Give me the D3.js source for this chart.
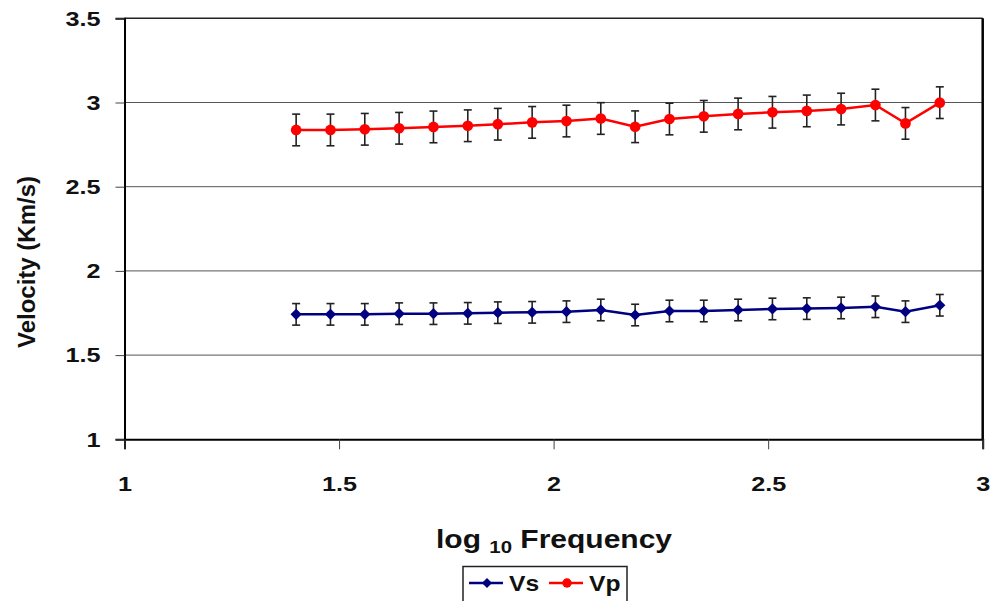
<!DOCTYPE html>
<html>
<head>
<meta charset="utf-8">
<script src="https://cdn.jsdelivr.net/npm/d3@7/dist/d3.min.js"></script>
<style>
  html, body { margin: 0; padding: 0; background: #fff; }
  svg { display: block; font-family: "Liberation Sans", Arial, sans-serif; font-weight: bold; }
</style>
</head>
<body>
<svg id="chart" width="993" height="601"></svg>
<script>
// log10 of frequency for each measurement
const logFreq = [1.40, 1.48, 1.56, 1.64, 1.72, 1.80, 1.87, 1.95, 2.03, 2.11,
                 2.19, 2.27, 2.35, 2.43, 2.51, 2.59, 2.67, 2.75, 2.82, 2.90];
// S-wave velocity (km/s) and its uncertainty
const vs = [1.742, 1.742, 1.742, 1.746, 1.746, 1.748, 1.752, 1.754, 1.758, 1.768,
            1.738, 1.762, 1.762, 1.768, 1.774, 1.776, 1.780, 1.787, 1.758, 1.796];
const vsErr = [0.064, 0.064, 0.064, 0.064, 0.064, 0.064, 0.064, 0.064, 0.064, 0.064,
               0.064, 0.064, 0.064, 0.064, 0.064, 0.064, 0.064, 0.064, 0.064, 0.064];
// P-wave velocity (km/s) and its uncertainty
const vp = [2.837, 2.837, 2.841, 2.847, 2.855, 2.862, 2.871, 2.882, 2.890, 2.905,
            2.856, 2.902, 2.918, 2.932, 2.942, 2.950, 2.961, 2.985, 2.876, 2.999];
const vpErr = [0.094, 0.094, 0.094, 0.094, 0.094, 0.094, 0.094, 0.094, 0.094, 0.094,
               0.094, 0.094, 0.094, 0.094, 0.094, 0.094, 0.094, 0.094, 0.094, 0.094];
const xTicks = [1, 1.5, 2, 2.5, 3];
const yTicks = [1, 1.5, 2, 2.5, 3, 3.5];
const seriesNames = ["Vs", "Vp"];

const svg = d3.select("#chart");
const plotLeft = 124.5, plotRight = 982.7, plotTop = 18.3, plotBottom = 439.3;
const FONT = "Liberation Sans, Arial, sans-serif";
const WIDEN = 1.2; // horizontally widened lettering

const x = d3.scaleLinear().domain([1, 3]).range([plotLeft, plotRight]);
const y = d3.scaleLinear().domain([1, 3.5]).range([plotBottom, plotTop]);

// horizontal gridlines
svg.append("g").selectAll("line")
  .data(yTicks.filter(t => t > 1 && t < 3.5))
  .join("line")
  .attr("x1", plotLeft).attr("x2", plotRight)
  .attr("y1", d => y(d)).attr("y2", d => y(d))
  .attr("stroke", "#555").attr("stroke-width", 1);

// plot frame: top and right edges
svg.append("line").attr("x1", plotLeft).attr("x2", plotRight).attr("y1", plotTop).attr("y2", plotTop)
  .attr("stroke", "#222").attr("stroke-width", 1.5);
svg.append("line").attr("x1", plotRight).attr("x2", plotRight).attr("y1", plotTop).attr("y2", plotBottom)
  .attr("stroke", "#000").attr("stroke-width", 2.5);

// y axis
const yAxis = svg.append("g")
  .attr("transform", `translate(${plotLeft},0)`)
  .call(d3.axisLeft(y).tickValues(yTicks).tickSize(9).tickPadding(15).tickFormat(d3.format("")));
yAxis.select(".domain").attr("stroke", "#000").attr("stroke-width", 2);
yAxis.selectAll(".tick line").attr("stroke", "#444").attr("stroke-width", 1);
yAxis.selectAll("text").attr("font-size", 21).attr("font-weight", "bold")
  .attr("font-family", FONT).attr("fill", "#111")
  .attr("x", 0).attr("transform", `translate(-24,0) scale(${WIDEN},1)`);

// x axis
const xAxis = svg.append("g")
  .attr("transform", `translate(0,${plotBottom})`)
  .call(d3.axisBottom(x).tickValues(xTicks).tickSize(10).tickPadding(27).tickFormat(d3.format("")));
xAxis.select(".domain").attr("stroke", "#000").attr("stroke-width", 2);
xAxis.selectAll(".tick line").attr("stroke", "#444").attr("stroke-width", 1);
xAxis.selectAll("text").attr("font-size", 21).attr("font-weight", "bold")
  .attr("font-family", FONT).attr("fill", "#111")
  .attr("transform", `scale(${WIDEN},1)`);

// axis titles
svg.append("text")
  .attr("transform", `translate(35,262) rotate(-90)`)
  .attr("text-anchor", "middle")
  .attr("font-size", 24).attr("fill", "#111")
  .text("Velocity (Km/s)");

const xt = svg.append("text")
  .attr("transform", `translate(554,548) scale(${WIDEN},1)`)
  .attr("text-anchor", "middle")
  .attr("font-size", 25).attr("fill", "#111");
xt.append("tspan").text("log ");
xt.append("tspan").attr("font-size", 17).attr("dy", 5).text("10");
xt.append("tspan").attr("dy", -5).text(" Frequency");

// series
const series = [
  { name: seriesNames[0], values: vs, err: vsErr, color: "#000080", type: d3.symbolDiamond2, size: 80 },
  { name: seriesNames[1], values: vp, err: vpErr, color: "#ff0000", type: d3.symbolCircle, size: 90 }
];

const line = d3.line().x(d => x(d.f)).y(d => y(d.v));

series.forEach(s => {
  const pts = logFreq.map((f, i) => ({ f, v: s.values[i], e: s.err[i] }));
  const g = svg.append("g");
  // error bars
  const eb = g.append("g").selectAll("g").data(pts).join("g")
    .attr("stroke", "#222").attr("stroke-width", 1.6);
  eb.append("line").attr("x1", d => x(d.f)).attr("x2", d => x(d.f))
    .attr("y1", d => y(d.v + d.e)).attr("y2", d => y(d.v - d.e));
  eb.append("line").attr("x1", d => x(d.f) - 4).attr("x2", d => x(d.f) + 4)
    .attr("y1", d => y(d.v + d.e)).attr("y2", d => y(d.v + d.e));
  eb.append("line").attr("x1", d => x(d.f) - 4).attr("x2", d => x(d.f) + 4)
    .attr("y1", d => y(d.v - d.e)).attr("y2", d => y(d.v - d.e));
  // connecting line
  g.append("path").datum(pts).attr("d", line)
    .attr("fill", "none").attr("stroke", s.color).attr("stroke-width", 2.5);
  // markers
  const sym = d3.symbol().type(s.type).size(s.size);
  g.append("g").selectAll("path").data(pts).join("path")
    .attr("transform", d => `translate(${x(d.f)},${y(d.v)})`)
    .attr("d", sym).attr("fill", s.color);
});

// legend
const lg = svg.append("g");
lg.append("rect").attr("x", 463).attr("y", 566.5).attr("width", 164).attr("height", 40)
  .attr("fill", "#fff").attr("stroke", "#222").attr("stroke-width", 1.5);
const legendItems = [
  { name: seriesNames[0], color: "#000080", type: d3.symbolDiamond2, size: 65, x0: 469 },
  { name: seriesNames[1], color: "#ff0000", type: d3.symbolCircle, size: 70, x0: 549 }
];
legendItems.forEach(it => {
  lg.append("line").attr("x1", it.x0).attr("x2", it.x0 + 34).attr("y1", 583).attr("y2", 583)
    .attr("stroke", it.color).attr("stroke-width", 2.5);
  lg.append("path").attr("transform", `translate(${it.x0 + 18},583)`)
    .attr("d", d3.symbol().type(it.type).size(it.size)).attr("fill", it.color);
  lg.append("text").attr("transform", `translate(${it.x0 + 40},591) scale(1.12,1)`)
    .attr("font-size", 22).attr("fill", "#111").text(it.name);
});
</script>
</body>
</html>
